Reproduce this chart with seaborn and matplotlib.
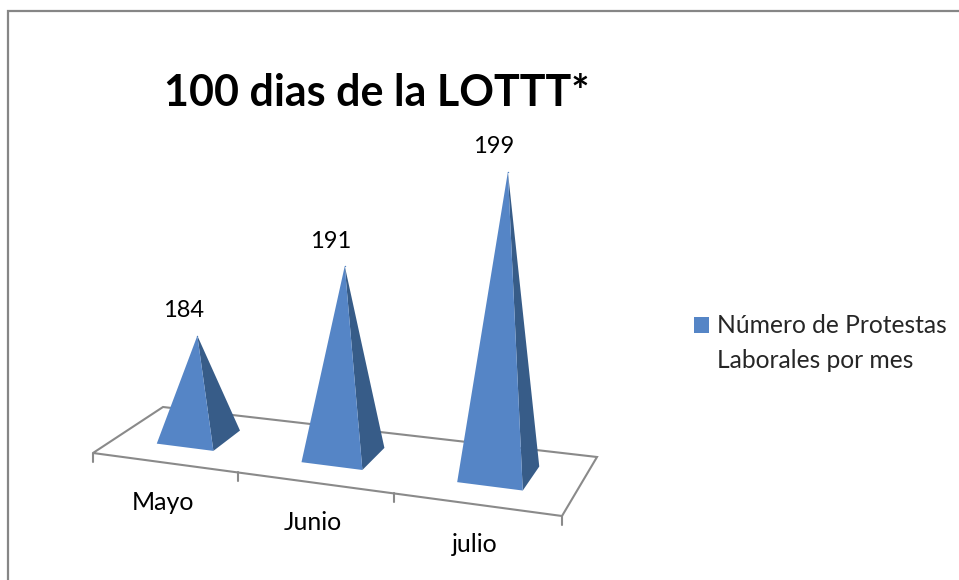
import numpy as np
import pandas as pd
import matplotlib
matplotlib.use("Agg")
import matplotlib.pyplot as plt
from matplotlib.patches import Polygon, Patch
import seaborn as sns

# ---- data ----
categories = ["Mayo", "Junio", "julio"]
protestas = [184, 191, 199]
series_name = "Número de Protestas\nLaborales por mes"
title_text = "100 dias de la LOTTT*"

# ---- style / scene ----
FRONT, SIDE, GRID = "#5585C6", "#375C88", "#8A8A8A"
FLOOR = np.array([[93, 453], [562, 516], [597, 457], [163, 407]], float)
V_FRONT, V_BACK, HALF = 0.30, 0.72, 0.20
AXIS_BASE, AXIS_GAIN, LEAN, LEAN_X0 = 174.4, 0.073, 0.00015, 297
WARP = 0.013

sns.set_theme(style="white")
plt.rcParams["font.family"] = ["Lato", "DejaVu Sans"]


def homography(q):
    src = np.array([[0, 0], [1, 0], [1, 1], [0, 1]], float)
    A, b = [], []
    for (u, v), (x, y) in zip(src, q):
        A.append([u, v, 1, 0, 0, 0, -u * x, -v * x]); b.append(x)
        A.append([0, 0, 0, u, v, 1, -u * y, -v * y]); b.append(y)
    return np.append(np.linalg.solve(np.array(A), np.array(b)), 1).reshape(3, 3)


H = homography(FLOOR)
n = len(categories)


def floor_pt(cat_pos, depth):
    warped = cat_pos + WARP * cat_pos * (n - cat_pos)
    p = H @ np.array([warped / n, depth, 1.0])
    return p[:2] / p[2]


def apex(i, value):
    centre = floor_pt(i + 0.5, (V_FRONT + V_BACK) / 2)
    cell = floor_pt(i + 1, 0)[0] - floor_pt(i, 0)[0]
    h = AXIS_GAIN * (value - AXIS_BASE) * cell
    return centre + np.array([(centre[0] - LEAN_X0) * LEAN * h, -h])


fig, ax = plt.subplots(figsize=(9.59, 5.80), dpi=100)
fig.subplots_adjust(0, 0, 1, 1)
ax.set_xlim(0, 959)
ax.set_ylim(580, 0)
ax.axis("off")

# outer chart frame
ax.plot([8, 8, 959], [580, 11, 11], color="#868686", lw=1.6, solid_joinstyle="miter")

# floor
ax.add_patch(Polygon(FLOOR, closed=True, fc="white", ec=GRID, lw=1.5, zorder=1))
for i in range(n + 1):
    x, y = floor_pt(i, 0)
    ax.plot([x, x], [y, y + 9], color=GRID, lw=1.5, zorder=1)

# pyramids
apexes = []
for i, (cat, val) in enumerate(zip(categories, protestas)):
    fl = floor_pt(i + 0.5 - HALF, V_FRONT)
    fr = floor_pt(i + 0.5 + HALF, V_FRONT)
    br = floor_pt(i + 0.5 + HALF, V_BACK)
    top = apex(i, val)
    apexes.append(top)
    ax.add_patch(Polygon([fr, br, top], closed=True, fc=SIDE, ec="none", zorder=3))
    ax.add_patch(Polygon([fl, fr, top], closed=True, fc=FRONT, ec="none", zorder=4))
    ax.text(top[0] - 14, top[1] - 25, str(val), ha="center", va="center",
            fontsize=17, color="black", zorder=5)
    mx, my = floor_pt(i + 0.5, 0)
    ax.text(mx - 1, my + 40, cat, ha="center", va="center", fontsize=18, color="black")

apexes = np.array(apexes)
df = pd.DataFrame({"mes": categories, "valor": protestas,
                   "x": apexes[:, 0], "y": apexes[:, 1]})
sns.scatterplot(data=df, x="x", y="y", s=1, color=FRONT, linewidth=0, ax=ax, zorder=2, legend=False)
ax.set_xlim(0, 959)
ax.set_ylim(580, 0)
ax.axis("off")

ax.text(377, 93, title_text, ha="center", va="center", fontsize=31,
        fontweight="bold", color="black")

leg = ax.legend(handles=[Patch(fc=FRONT, ec="none", label=series_name)],
                loc="upper left", bbox_to_anchor=(694 / 959, 1 - 314 / 580),
                frameon=False, fontsize=17.7, handlelength=0.62, handleheight=0.62,
                handletextpad=0.30, borderpad=0, borderaxespad=0, labelspacing=0)
for t in leg.get_texts():
    t.set_linespacing(1.65)
patch = leg.get_patches()[0]
patch.set_y(patch.get_y() + 13.7)

fig.savefig("out.png", dpi=100)
